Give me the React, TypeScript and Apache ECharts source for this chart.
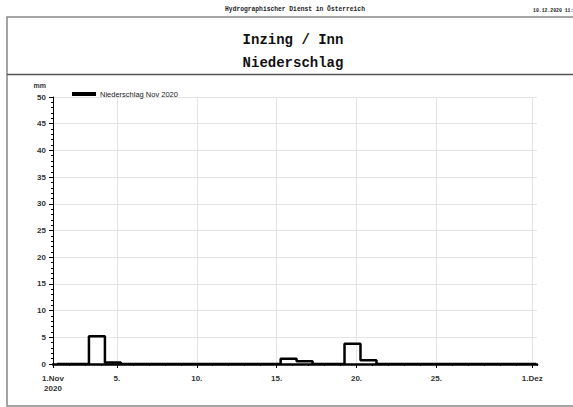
import React, { useEffect, useRef } from "react";
import * as echarts from "echarts";

// Daily precipitation totals (mm), day N = Nov N 06:00 -> Nov N+1 06:00
const days: number[] = Array.from({ length: 30 }, (_, i) => i + 1);
const precip: number[] = [
  0, 0, 5.2, 0.3, 0, 0, 0, 0, 0, 0,
  0, 0, 0, 0, 1.0, 0.5, 0, 0, 3.8, 0.7,
  0, 0, 0, 0, 0, 0, 0, 0, 0, 0,
];
const dayOffset = 0.25; // 06:00
const majorTickValues: number[] = [0, 4, 9, 14, 19, 24, 30];
const majorTickLabels: string[] = ["1.Nov\n2020", "5.", "10.", "15.", "20.", "25.", "1.Dez"];
const seriesName = "Niederschlag Nov 2020";
const title1 = "Inzing / Inn";
const title2 = "Niederschlag";
const header = "Hydrographischer Dienst in Österreich";
const stamp = "10.12.2020 11:";

export default function App() {
  const ref = useRef<HTMLDivElement>(null);
  useEffect(() => {
    if (!ref.current) return;
    const chart = echarts.init(ref.current, undefined, { renderer: "svg" });
    const data: number[][] = days.map((d, i) => [d - 1 + dayOffset, precip[i]]);
    data.push([days[days.length - 1] + dayOffset, precip[precip.length - 1]]);
    const labelMap: Record<number, string> = {};
    majorTickValues.forEach((v, i) => (labelMap[v] = majorTickLabels[i]));
    const axisFont = { fontFamily: "Liberation Sans, Arial, sans-serif", fontSize: 8, fontWeight: "bold" as const, color: "#333" };
    chart.setOption({
      animation: false,
      backgroundColor: "#fff",
      grid: { left: 53, right: 36, top: 97, bottom: 43, containLabel: false },
      legend: {
        left: 72,
        top: 90,
        padding: 0,
        icon: "rect",
        itemWidth: 24,
        itemHeight: 4,
        itemGap: 4,
        textStyle: { fontFamily: "Liberation Sans, Arial, sans-serif", fontSize: 7.5, color: "#222", padding: [0, 0, 0, -1] },
        data: [seriesName],
      },
      xAxis: [
        {
          type: "value",
          min: 0,
          max: 30.3,
          interval: 1,
          position: "bottom",
          axisLine: { show: true, onZero: false, lineStyle: { color: "#000", width: 2.5 } },
          axisTick: { show: true, length: 2, lineStyle: { color: "#000", width: 1 } },
          axisLabel: { show: false },
          splitLine: { show: false },
        },
        {
          type: "value",
          min: 0,
          max: 30.3,
          position: "bottom",
          axisLine: { show: false },
          axisTick: { show: true, customValues: majorTickValues, length: 4, lineStyle: { color: "#000", width: 1 } },
          axisLabel: {
            show: true,
            customValues: majorTickValues,
            formatter: (v: number) => labelMap[Math.round(v)] ?? "",
            margin: 9,
            lineHeight: 10,
            verticalAlign: "top",
            ...axisFont,
          },
          splitLine: { show: true, lineStyle: { color: "#e4e4e4", width: 1 } },
        },
      ],
      yAxis: {
        type: "value",
        min: 0,
        max: 50,
        interval: 5,
        axisLine: { show: true, lineStyle: { color: "#000", width: 1 } },
        axisTick: { show: true, length: 4, lineStyle: { color: "#000" } },
        minorTick: { show: true, splitNumber: 5, length: 2, lineStyle: { color: "#000" } },
        axisLabel: { margin: 7, ...axisFont },
        splitLine: { show: true, lineStyle: { color: "#e4e4e4", width: 1 } },
      },
      series: [
        {
          name: seriesName,
          type: "line",
          xAxisIndex: 0,
          step: "end",
          data,
          showSymbol: false,
          symbol: "none",
          color: "#000",
          lineStyle: { color: "#000", width: 2.5 },
          z: 5,
        },
      ],
      graphic: [
        { type: "rect", shape: { x: 7, y: 17, width: 600, height: 389 }, style: { fill: "none", stroke: "#888", lineWidth: 1.5 }, silent: true, z: -1 },
        { type: "line", shape: { x1: 7, y1: 74.5, x2: 600, y2: 74.5 }, style: { stroke: "#555", lineWidth: 1.5 }, silent: true },
        { type: "text", x: 295, y: 9.5, style: { text: header, font: "bold 6.3px 'Liberation Mono', monospace", fill: "#222", align: "center", verticalAlign: "middle" } },
        { type: "text", x: 533, y: 10, style: { text: stamp, font: "bold 4.8px 'Liberation Mono', monospace", fill: "#222", align: "left", verticalAlign: "middle" } },
        { type: "text", x: 293, y: 39.5, style: { text: title1, font: "bold 14px 'Liberation Mono', monospace", fill: "#111", align: "center", verticalAlign: "middle" } },
        { type: "text", x: 293, y: 62.5, style: { text: title2, font: "bold 14px 'Liberation Mono', monospace", fill: "#111", align: "center", verticalAlign: "middle" } },
        { type: "text", x: 46, y: 88.5, style: { text: "mm", font: "bold 7px 'Liberation Sans', Arial, sans-serif", fill: "#333", align: "right", verticalAlign: "bottom" } },
      ],
    });
    return () => chart.dispose();
  }, []);
  return <div ref={ref} style={{ width: 573, height: 407, position: "absolute", left: 0, top: 0 }} />;
}
